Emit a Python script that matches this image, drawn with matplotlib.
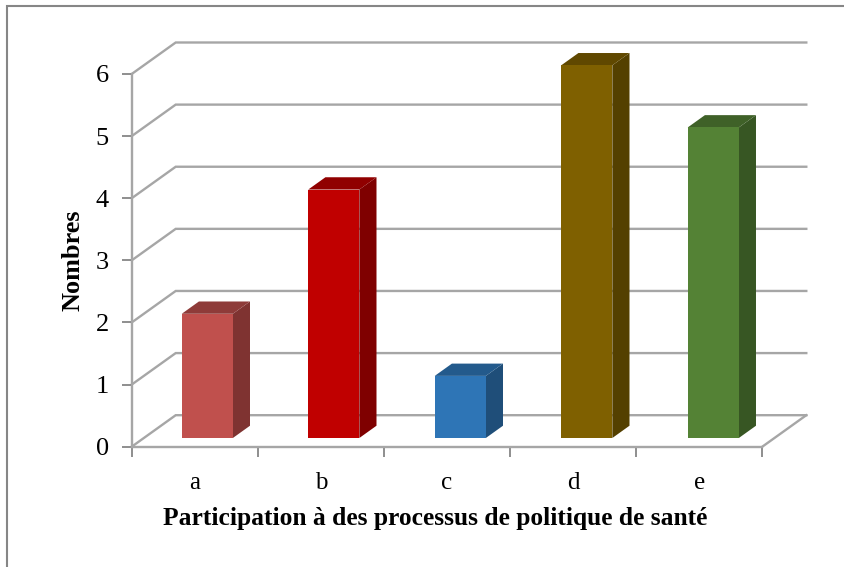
"""Pseudo-3D column chart: participation in health policy processes."""

import matplotlib

matplotlib.use("Agg")
import matplotlib.pyplot as plt
from matplotlib.patches import Polygon, Rectangle

categories = ["a", "b", "c", "d", "e"]
values = [2, 4, 1, 6, 5]
y_ticks = [0, 1, 2, 3, 4, 5, 6]

front_colors = ["#C0504D", "#C00000", "#2E75B6", "#7F6000", "#548235"]
side_colors = ["#7F3331", "#7F0000", "#1F4E79", "#544000", "#375623"]
top_colors = ["#8E3B39", "#900000", "#235A8C", "#604800", "#3F6128"]

W, H = 844, 567
GREY = "#A6A6A6"
# px size of the plotting box, depth of the floor
X0, X1, Y0, Y6 = 131.7, 762.3, 446.7, 74.0
DEPTH_X = 44.0 / ((X1 - X0) / 5)
DEPTH_Y = 31.5 / ((Y0 - Y6) / 6)
BAR_W = 0.405
BAR_D0 = 0.285
BAR_D = 0.39

plt.rcParams["font.family"] = ["Liberation Serif", "DejaVu Serif"]

fig = plt.figure(figsize=(W / 100, H / 100), dpi=100)
ax = fig.add_axes([X0 / W, 1 - Y0 / H, (X1 - X0) / W, (Y0 - Y6) / H])
ax.set_xlim(-0.5, 4.5)
ax.set_ylim(0, 6)
ax.patch.set_visible(False)

# outer frame, only left and top fall inside the picture
fig.add_artist(Rectangle((7 / W, -0.05), 1.05, 1.05 - 5.5 / H, transform=fig.transFigure,
                         fill=False, edgecolor="#868686", linewidth=1.5))

# walls
for v in y_ticks:
    ax.plot([-0.5, -0.5 + DEPTH_X, 4.5 + DEPTH_X], [v, v + DEPTH_Y, v + DEPTH_Y],
            color=GREY, linewidth=1.7, clip_on=False, zorder=1, solid_joinstyle="miter")
ax.plot([4.5, 4.5 + DEPTH_X], [0, DEPTH_Y], color=GREY, linewidth=1.7, clip_on=False, zorder=1)

# columns
for i, v in enumerate(values):
    x0 = i * 1.003 - BAR_W / 2 + BAR_D0 * DEPTH_X
    x1 = x0 + BAR_W
    y0 = 0.276 * DEPTH_Y
    ddx, ddy = BAR_D * DEPTH_X, BAR_D * DEPTH_Y
    ax.bar(x0, v, width=BAR_W, bottom=y0, align="edge", color=front_colors[i], zorder=3, clip_on=False)
    ax.add_patch(Polygon([(x1, y0), (x1 + ddx, y0 + ddy), (x1 + ddx, y0 + v + ddy), (x1, y0 + v)],
                         closed=True, facecolor=side_colors[i], edgecolor="none", zorder=2, clip_on=False))
    ax.add_patch(Polygon([(x0, y0 + v), (x0 + ddx, y0 + v + ddy), (x1 + ddx, y0 + v + ddy), (x1, y0 + v)],
                         closed=True, facecolor=top_colors[i], edgecolor="none", zorder=2, clip_on=False))

for name in ("top", "right"):
    ax.spines[name].set_visible(False)
for name in ("left", "bottom"):
    ax.spines[name].set_color(GREY)
    ax.spines[name].set_linewidth(1.7)

ax.set_yticks(y_ticks)
ax.tick_params(axis="y", length=7, width=1.3, color="#868686", labelsize=19, pad=9.5)
ax.set_xticks([i - 0.5 for i in range(6)])
ax.set_xticklabels([])
ax.tick_params(axis="x", which="major", length=7, width=1.3, color="#868686")
ax.set_xticks(range(5), categories, minor=True)
ax.tick_params(axis="x", which="minor", length=0, labelsize=18, pad=18)

fig.text(435 / W, 1 - 519 / H, "Participation à des processus de politique de santé",
         ha="center", va="center", fontsize=18.4, fontweight="bold")
fig.text(73.5 / W, 1 - 260 / H, "Nombres", rotation=90, ha="center", va="center",
         fontsize=18.9, fontweight="bold")

fig.savefig("out.png", dpi=100)
